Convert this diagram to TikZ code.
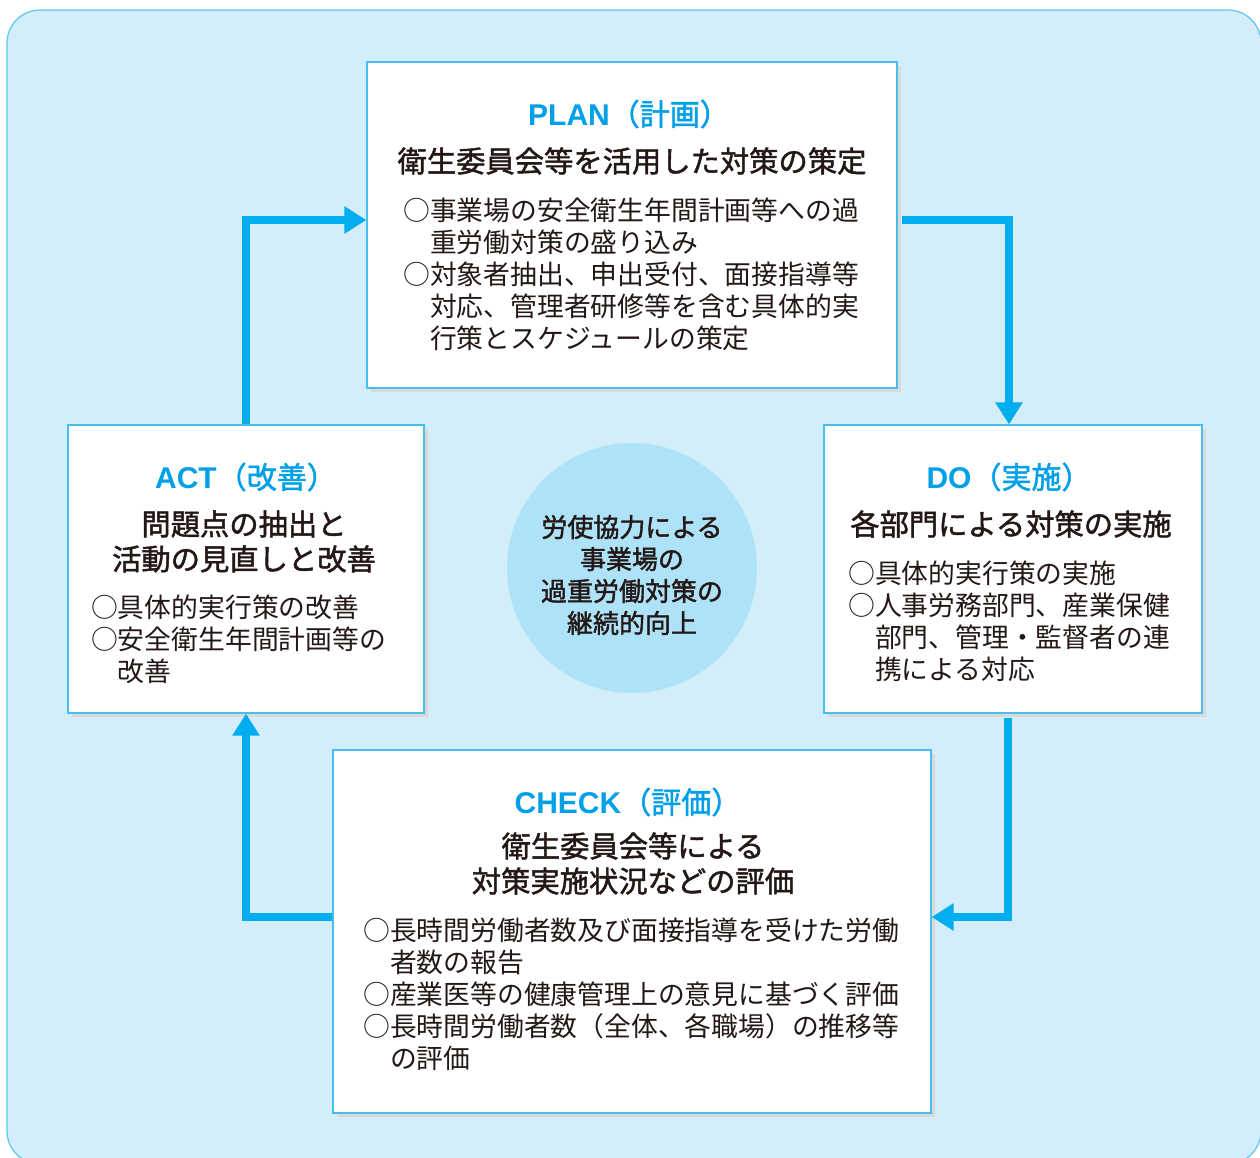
\documentclass[tikz,border=0pt]{standalone}
\usepackage{fontspec}
\setmainfont{Noto Sans CJK JP}
\newfontfamily\jpmed{Noto Sans CJK JP}[FakeBold=1.6]
\newfontfamily\latb{Liberation Sans Bold}
\usetikzlibrary{arrows.meta,shadows}
\definecolor{bgblue}{HTML}{D3EEFA}
\definecolor{bgline}{HTML}{5CC6F1}
\definecolor{boxline}{HTML}{45BFEF}
\definecolor{arrcyan}{HTML}{00AEEF}
\definecolor{titlecyan}{HTML}{00A0E9}
\definecolor{circfill}{HTML}{AEE2F8}
\definecolor{shadowgray}{HTML}{D9D9D9}
\definecolor{ink}{HTML}{231815}
\tikzset{
  pdbox/.style={rectangle, draw=boxline, line width=1.2bp, fill=white, inner sep=0pt,
    drop shadow={shadow xshift=4bp, shadow yshift=-4bp, fill=shadowgray, opacity=1}},
  ttl/.style={inner sep=0pt, text=titlecyan, font={\fontsize{30bp}{34bp}\selectfont\jpmed}},
  hd/.style={inner sep=0pt, text=ink, align=center, font={\fontsize{29.3bp}{35bp}\selectfont\jpmed}},
  bd/.style={inner sep=0pt, text=ink, align=left, anchor=west, font={\fontsize{26.8bp}{32bp}\selectfont}},
  ctext/.style={inner sep=0pt, text=ink, align=center, font={\fontsize{26bp}{32bp}\selectfont\jpmed}},
  arr/.style={draw=arrcyan, line width=8bp, line join=miter, -{Triangle[width=26bp,length=22bp]}}
}
\newcommand{\ind}{\hspace*{1em}}
\newcommand{\lat}[1]{{\latb #1}}
\begin{document}
\begin{tikzpicture}[x=1bp,y=-1bp]
\useasboundingbox (0,0) rectangle (1260,1158);
\fill[bgblue] (7,10) [rounded corners=33bp] rectangle (1261,1164);
\draw[bgline, line width=1.2bp, rounded corners=33bp] (7,10) rectangle (1261,1164);

% boxes
\node[pdbox, minimum width=530bp, minimum height=326bp] (plan) at (632,225) {};
\node[pdbox, minimum width=378bp, minimum height=288bp] (do) at (1013,569) {};
\node[pdbox, minimum width=356bp, minimum height=288bp] (act) at (246,569) {};
\node[pdbox, minimum width=598bp, minimum height=363bp] (check) at (632,931.5) {};
\node[circle, fill=circfill, minimum size=250bp, inner sep=0pt] (core) at (632,568) {};

% arrows
\draw[arr] ([xshift=4bp,yshift=5.5bp]plan.east) -| ([xshift=-4bp]do.north);
\draw[arr] ([xshift=-5bp,yshift=-4bp]do.south) |- ([yshift=14.5bp]check.east);
\draw[arr] ([yshift=14.5bp]check.west) -| (act.south);
\draw[arr] (act.north) |- ([yshift=5bp]plan.west);

% PLAN
\node[ttl] (plant) at (629,114) {\lat{PLAN}（計画）};
\node[hd] (planh) at (632,161) {衛生委員会等を活用した対策の策定};
\node[bd] (planb) at (403,274) {○事業場の安全衛生年間計画等への過\\
\ind 重労働対策の盛り込み\\
○対象者抽出、申出受付、面接指導等\\
\ind 対応、管理者研修等を含む具体的実\\
\ind 行策とスケジュールの策定};

% DO
\node[ttl] (dot) at (1009,477) {\lat{DO}（実施）};
\node[hd] (doh) at (1011,524) {各部門による対策の実施};
\node[bd] (dob) at (848,621) {○具体的実行策の実施\\
○人事労務部門、産業保健\\
\ind 部門、管理・監督者の連\\
\ind 携による対応};

% ACT
\node[ttl] (actt) at (246,477) {\lat{ACT}（改善）};
\node[hd] (acth) at (244,541.5) {問題点の抽出と\\活動の見直しと改善};
\node[bd] (actb) at (91,639) {○具体的実行策の改善\\
○安全衛生年間計画等の\\
\ind 改善};

% CHECK
\node[ttl] (checkt) at (628,802) {\lat{CHECK}（評価）};
\node[hd] (checkh) at (633,863.5) {衛生委員会等による\\対策実施状況などの評価};
\node[bd] (checkb) at (363,994) {○長時間労働者数及び面接指導を受けた労働\\
\ind 者数の報告\\
○産業医等の健康管理上の意見に基づく評価\\
○長時間労働者数（全体、各職場）の推移等\\
\ind の評価};

% centre
\node[ctext] (coret) at (632,575) {労使協力による\\事業場の\\過重労働対策の\\継続的向上};
\end{tikzpicture}
\end{document}
